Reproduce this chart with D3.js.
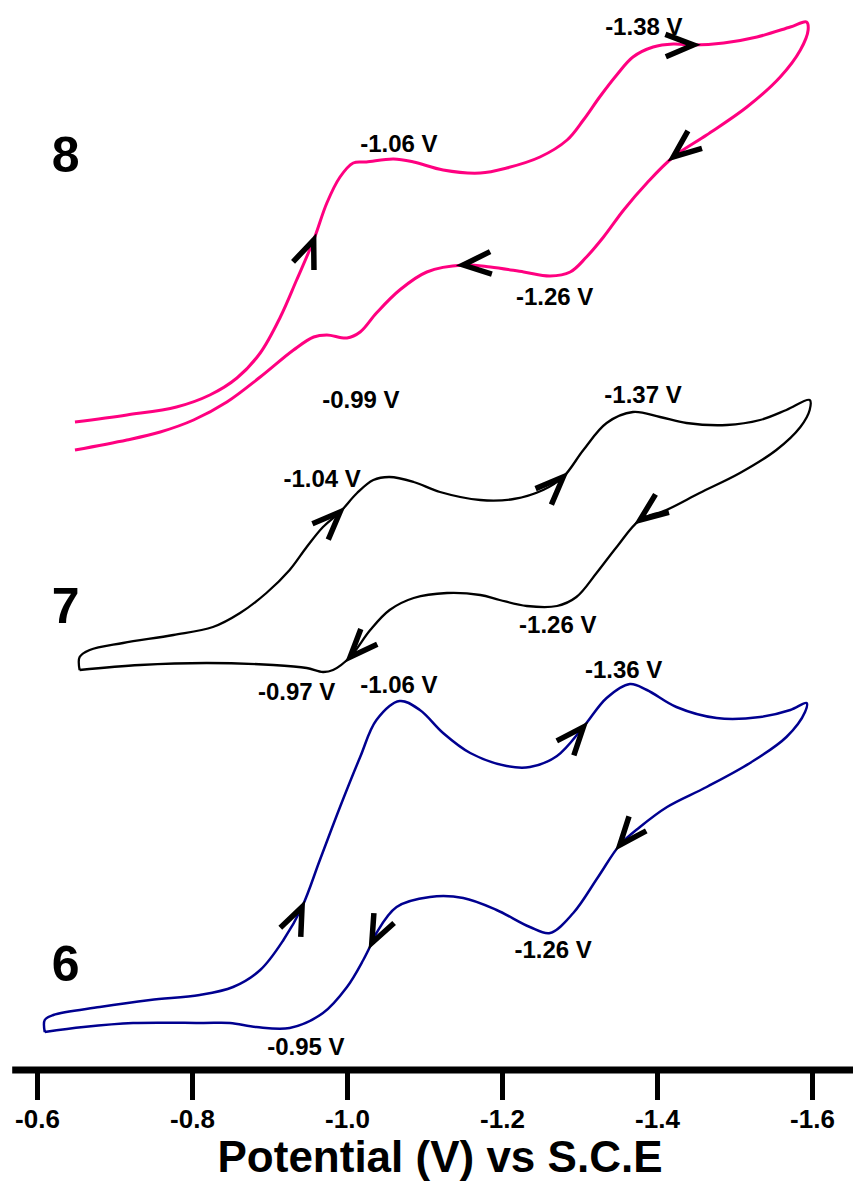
<!DOCTYPE html>
<html>
<head>
<meta charset="utf-8">
<script src="https://cdnjs.cloudflare.com/ajax/libs/d3/7.8.5/d3.min.js"></script>
<style>
body { margin: 0; background: #fff; }
svg text { font-family: Arial, "Liberation Sans", sans-serif; font-weight: bold; }
</style>
</head>
<body>
<script>
// cyclic voltammograms: [potential (V vs SCE), current (a.u., offset stack)]
var cv8 = [
  [-0.649, 64.8], [-0.716, 65.5], [-0.780, 66.3], [-0.823, 67.5], [-0.858, 69.2],
  [-0.888, 71.7], [-0.914, 75.3], [-0.935, 79.0], [-0.957, 83.0], [-0.974, 86.7],
  [-0.991, 89.3], [-1.008, 90.7], [-1.025, 90.8], [-1.060, 91.1], [-1.086, 90.8],
  [-1.124, 90.0], [-1.172, 89.7], [-1.206, 90.2], [-1.249, 91.3], [-1.284, 93.0],
  [-1.305, 95.0], [-1.326, 97.3], [-1.348, 99.5], [-1.369, 101.3], [-1.395, 102.3],
  [-1.421, 102.6], [-1.447, 102.5], [-1.486, 102.7], [-1.529, 103.3], [-1.572, 104.3],
  [-1.593, 104.8],
  [-1.595, 104.0], [-1.585, 102.0], [-1.559, 99.3], [-1.516, 96.3], [-1.464, 93.5],
  [-1.421, 91.3], [-1.387, 88.7], [-1.357, 86.0], [-1.331, 83.3], [-1.309, 81.3],
  [-1.288, 79.8], [-1.262, 79.4], [-1.228, 79.8], [-1.185, 80.3], [-1.150, 80.5],
  [-1.103, 79.8], [-1.068, 78.0], [-1.038, 75.7], [-1.017, 73.8], [-1.000, 73.2],
  [-0.974, 73.5], [-0.957, 73.3], [-0.931, 72.0], [-0.888, 69.3], [-0.845, 66.8],
  [-0.802, 65.0], [-0.759, 63.8], [-0.716, 63.0], [-0.649, 62.0]
];

var cv7 = [
  [-0.655, 40.0], [-0.655, 41.3], [-0.668, 42.0], [-0.711, 42.7], [-0.776, 43.5],
  [-0.827, 44.3], [-0.862, 45.7], [-0.896, 47.7], [-0.926, 50.0], [-0.948, 52.3],
  [-0.969, 54.3], [-0.991, 55.8], [-1.013, 57.7], [-1.034, 59.0], [-1.055, 59.3],
  [-1.086, 58.8], [-1.120, 57.8], [-1.172, 57.0], [-1.215, 57.1], [-1.253, 58.0],
  [-1.279, 59.3], [-1.305, 62.0], [-1.335, 64.7], [-1.369, 65.8], [-1.404, 65.3],
  [-1.438, 64.7], [-1.490, 64.5], [-1.533, 65.0], [-1.567, 66.0], [-1.597, 67.0],
  [-1.597, 66.0], [-1.585, 64.3], [-1.554, 62.0], [-1.507, 59.7], [-1.455, 57.7],
  [-1.412, 56.0], [-1.378, 55.0], [-1.348, 52.3], [-1.322, 49.7], [-1.296, 47.3],
  [-1.271, 46.4], [-1.232, 46.4], [-1.197, 47.0], [-1.172, 47.5], [-1.129, 47.7],
  [-1.086, 47.2], [-1.055, 46.0], [-1.030, 44.0], [-1.004, 41.3], [-0.982, 40.0],
  [-0.969, 39.8], [-0.948, 40.2], [-0.905, 40.5], [-0.819, 40.7], [-0.733, 40.5],
  [-0.655, 40.0]
];

var cv6 = [
  [-0.610, 3.8], [-0.610, 5.0], [-0.621, 5.5], [-0.681, 6.3], [-0.746, 7.0],
  [-0.810, 7.5], [-0.853, 8.3], [-0.888, 10.0], [-0.918, 13.0], [-0.942, 16.3],
  [-0.965, 21.0], [-0.991, 26.3], [-1.017, 31.3], [-1.038, 35.0], [-1.068, 36.9],
  [-1.094, 36.0], [-1.124, 33.7], [-1.159, 31.7], [-1.206, 30.4], [-1.236, 30.3],
  [-1.271, 31.4], [-1.305, 34.3], [-1.335, 37.2], [-1.365, 38.6], [-1.387, 38.0],
  [-1.425, 36.3], [-1.477, 35.2], [-1.533, 35.3], [-1.572, 36.0], [-1.593, 36.7],
  [-1.591, 35.8], [-1.567, 33.3], [-1.520, 30.7], [-1.464, 28.3], [-1.413, 26.3],
  [-1.378, 24.3], [-1.352, 22.5], [-1.324, 19.3], [-1.292, 15.7], [-1.262, 13.7],
  [-1.236, 14.3], [-1.193, 16.0], [-1.150, 17.2], [-1.107, 17.3], [-1.064, 16.3],
  [-1.038, 13.7], [-1.032, 12.7], [-1.021, 11.0], [-1.000, 8.3], [-0.969, 5.7],
  [-0.926, 4.2], [-0.883, 4.3], [-0.849, 4.7], [-0.815, 4.7], [-0.724, 4.7],
  [-0.660, 4.3], [-0.610, 3.8]
];

// scan direction arrows (position on the curve)
var arrows8 = [[-0.957, 83.0], [-1.447, 102.5], [-1.421, 91.3], [-1.150, 80.5]];
var arrows7 = [[-0.991, 55.8], [-1.279, 59.3], [-1.378, 55.0], [-1.004, 41.3]];
var arrows6 = [[-0.942, 16.3], [-1.305, 34.3], [-1.352, 22.5], [-1.032, 12.7]];

// peak labels [text, potential, current]
var labels8 = [['-1.38 V', -1.383, 103.5], ['-1.06 V', -1.067, 91.8], ['-1.26 V', -1.268, 76.5], ['-0.99 V', -1.018, 66.2]];
var labels7 = [['-1.37 V', -1.382, 66.7], ['-1.04 V', -0.968, 58.3], ['-1.26 V', -1.272, 43.7], ['-0.97 V', -0.935, 37.0]];
var labels6 = [['-1.06 V', -1.067, 37.7], ['-1.36 V', -1.357, 39.2], ['-1.26 V', -1.266, 11.2], ['-0.95 V', -0.947, 1.5]];

// compound numbers
var compounds = [['8', -0.637, 89.8], ['7', -0.637, 44.7], ['6', -0.637, 8.9]];

var tickValues = [-0.6, -0.8, -1.0, -1.2, -1.4, -1.6];
var axisExtent = [-0.568, -1.66];

var width = 853, height = 1184;

var x = d3.scaleLinear().domain([-0.6, -1.6]).range([37, 812]);
var y = d3.scaleLinear().domain([0, 107]).range([1070, 0]);

var svg = d3.select('body').append('svg')
    .attr('width', width)
    .attr('height', height);

svg.append('rect').attr('width', width).attr('height', height).attr('fill', '#fff');

var valueline = d3.line()
    .x(function(d) { return x(d[0]); })
    .y(function(d) { return y(d[1]); })
    .curve(d3.curveCatmullRom.alpha(0.5));

var series = [
  {data: cv8, color: '#ff0080', w: 3, arrows: arrows8, labels: labels8},
  {data: cv7, color: '#000000', w: 2.3, arrows: arrows7, labels: labels7},
  {data: cv6, color: '#000090', w: 2.5, arrows: arrows6, labels: labels6}
];

function chevron(pts, spec) {
  var tx = x(spec[0]), ty = y(spec[1]);
  var best = 0, bd = Infinity;
  pts.forEach(function(p, i) {
    var d = (p[0] - tx) * (p[0] - tx) + (p[1] - ty) * (p[1] - ty);
    if (d < bd) { bd = d; best = i; }
  });
  var i0 = Math.max(best - 1, 0), i1 = Math.min(best + 1, pts.length - 1);
  var a = Math.atan2(pts[i1][1] - pts[i0][1], pts[i1][0] - pts[i0][0]);
  var tip = pts[best], L = 30, h = 22 * Math.PI / 180;
  var p1 = [tip[0] - L * Math.cos(a - h), tip[1] - L * Math.sin(a - h)];
  var p2 = [tip[0] - L * Math.cos(a + h), tip[1] - L * Math.sin(a + h)];
  return 'M' + p1 + 'L' + tip + 'L' + p2;
}

series.forEach(function(s) {
  svg.append('path')
      .datum(s.data)
      .attr('fill', 'none')
      .attr('stroke', s.color)
      .attr('stroke-width', s.w)
      .attr('stroke-linejoin', 'round')
      .attr('d', valueline);

  var pts = s.data.map(function(d) { return [x(d[0]), y(d[1])]; });
  svg.selectAll(null)
      .data(s.arrows)
      .enter().append('path')
      .attr('fill', 'none')
      .attr('stroke', '#000')
      .attr('stroke-width', 5.5)
      .attr('d', function(d) { return chevron(pts, d); });

  svg.selectAll(null)
      .data(s.labels)
      .enter().append('text')
      .attr('x', function(d) { return x(d[1]); })
      .attr('y', function(d) { return y(d[2]); })
      .attr('text-anchor', 'middle')
      .attr('font-size', 24)
      .attr('fill', '#000')
      .text(function(d) { return d[0]; });
});

svg.selectAll(null)
    .data(compounds)
    .enter().append('text')
    .attr('x', function(d) { return x(d[1]); })
    .attr('y', function(d) { return y(d[2]); })
    .attr('text-anchor', 'middle')
    .attr('font-size', 50)
    .text(function(d) { return d[0]; });

// x-axis
var xAxis = d3.axisBottom(x)
    .tickValues(tickValues)
    .tickSize(30)
    .tickPadding(10)
    .tickFormat(function(d) { return d.toFixed(1); });

var gx = svg.append('g')
    .attr('transform', 'translate(0,' + y(0) + ')')
    .call(xAxis);
gx.attr('font-size', 26).attr('font-family', null);
gx.select('.domain').remove();
gx.selectAll('.tick line').attr('stroke', '#000').attr('stroke-width', 5);
gx.selectAll('.tick text')
    .attr('fill', '#000')
    .style('font-size', '26px');

svg.append('line')
    .attr('x1', x(axisExtent[0]))
    .attr('x2', x(axisExtent[1]))
    .attr('y1', y(0))
    .attr('y2', y(0))
    .attr('stroke', '#000')
    .attr('stroke-width', 7);

// axis title
svg.append('text')
    .attr('text-anchor', 'middle')
    .attr('x', 440)
    .attr('y', 1172)
    .attr('font-size', 44)
    .text('Potential (V) vs S.C.E');
</script>
</body>
</html>
